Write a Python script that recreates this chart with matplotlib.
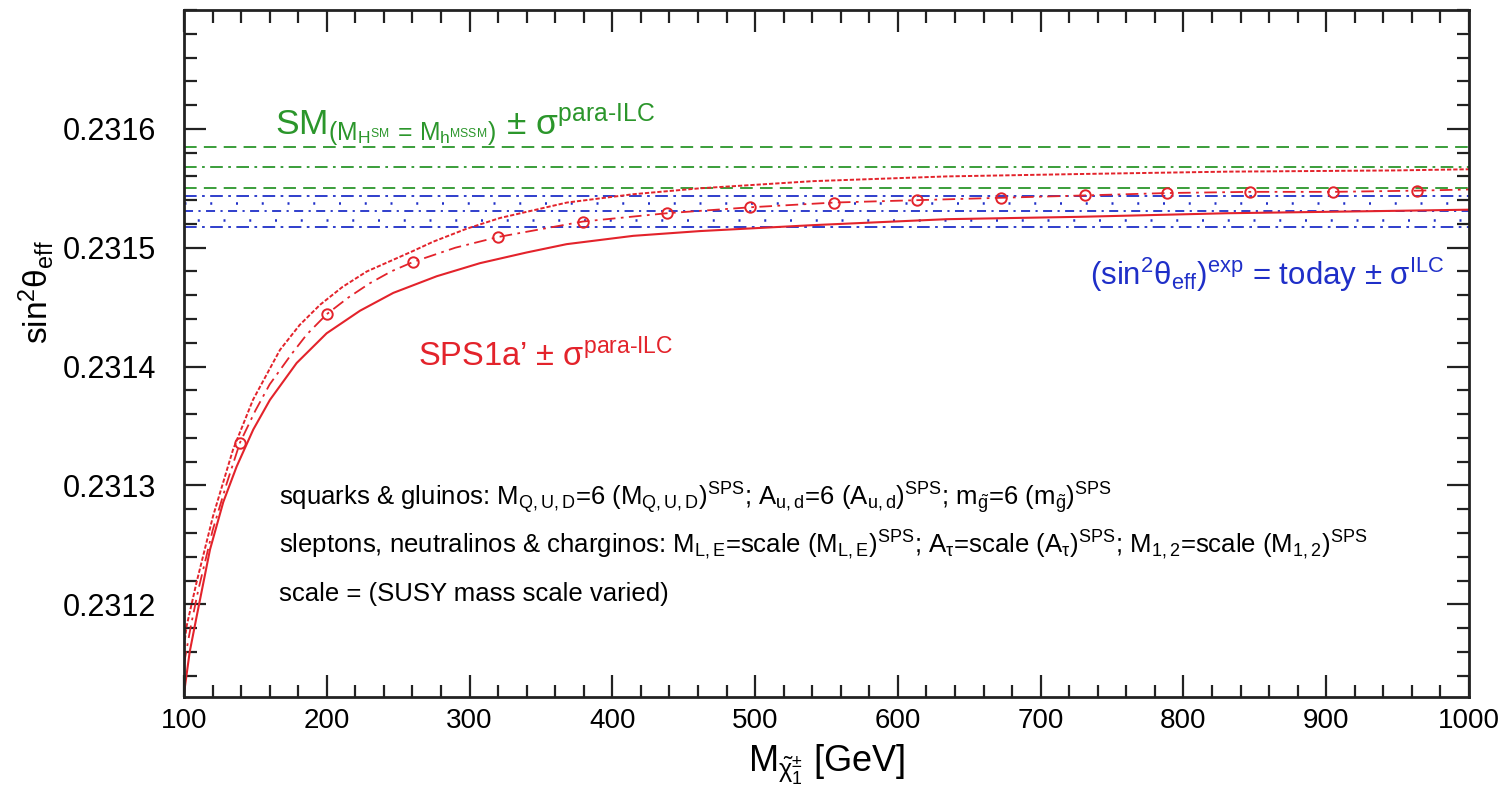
import numpy as np
import matplotlib
matplotlib.use('Agg')
from matplotlib import pyplot as plt
from matplotlib.ticker import MultipleLocator, FixedLocator, FormatStrFormatter

plt.rcParams['font.family'] = ['Liberation Sans', 'DejaVu Sans']
plt.rcParams['mathtext.fontset'] = 'custom'
plt.rcParams['mathtext.rm'] = 'Liberation Sans'
plt.rcParams['mathtext.it'] = 'Liberation Sans:italic'
plt.rcParams['mathtext.bf'] = 'Liberation Sans:bold'
plt.rcParams['mathtext.sf'] = 'Liberation Sans'
plt.rcParams['mathtext.default'] = 'regular'

# SPS1a' curves (chargino mass in GeV, sin^2 theta_eff)
x_lo = [100, 104, 108.9, 118.2, 127.5, 136.9, 148.5, 160.2, 178.9, 199.9, 223.3, 246.6, 277,
        307.3, 340, 368, 414.7, 461.4, 540.7, 634.2, 727.5, 830.3, 946.8, 1000]
y_lo = [0.231125, 0.231160, 0.231190, 0.231246, 0.231286, 0.231316, 0.231347, 0.231372, 0.231403,
        0.231428, 0.231447, 0.231462, 0.231476, 0.231487, 0.231496, 0.231503, 0.231510, 0.231514,
        0.231519, 0.231524, 0.231526, 0.231529, 0.231531, 0.231532]
x_up = [100, 101.9, 108.9, 120.3, 134.3, 148.3, 167.2, 181, 195.3, 211, 228, 260, 274.4, 298,
        321.3, 368.2, 414.5, 461.4, 540.5, 634.4, 727.5, 830.5, 946.8, 1000]
y_up = [0.231165, 0.231182, 0.231219, 0.231274, 0.231330, 0.231372, 0.231414, 0.231435, 0.231452,
        0.231467, 0.231480, 0.231497, 0.231505, 0.231516, 0.231525, 0.231538, 0.231545, 0.231550,
        0.231556, 0.231560, 0.231562, 0.231564, 0.231565, 0.231566]
x_mid = [100, 105, 110, 120, 130, 139.2, 150, 160, 175, 186, 199.9, 215, 230, 245, 260.4, 290,
         319.9, 379.2, 438.1, 496.4, 555.3, 613.4, 672.0, 731.0, 788.5, 846.6, 904.6, 963.4, 1000]
y_mid = [0.231150, 0.231183, 0.231212, 0.231262, 0.231302, 0.231336, 0.231363, 0.231385, 0.231410,
         0.231427, 0.231444, 0.231458, 0.231470, 0.231480, 0.231488, 0.231500, 0.231509, 0.231522,
         0.231529, 0.231534, 0.231538, 0.231540, 0.231542, 0.231544, 0.231546, 0.231547, 0.231547,
         0.231548, 0.231549]
x_pts = [139.2, 199.9, 260.4, 319.9, 379.2, 438.1, 496.4, 555.3, 613.4, 672.0, 731.0, 788.5,
         846.6, 904.6, 963.4]
y_pts = [0.231336, 0.231444, 0.231488, 0.231509, 0.231522, 0.231529, 0.231534, 0.231538, 0.231540,
         0.231542, 0.231544, 0.231546, 0.231547, 0.231547, 0.231548]

# horizontal bands
sm_hi, sm_c, sm_lo = 0.2315851, 0.2315683, 0.2315502
ex_hi, ex_c, ex_lo = 0.2315431, 0.2315305, 0.2315171
dot_rows = [0.2315376, 0.2315235]

red = '#e3232b'
green = '#2b962b'
blue = '#1f2fc8'

fig = plt.figure(figsize=(15.07, 8.08), dpi=100)
ax = fig.add_axes([184/1507, 1-697/808, (1469-184)/1507, (697-10)/808])

ax.axhline(sm_hi, color=green, lw=1.3, ls=(0, (7, 4)))
ax.axhline(sm_c, color=green, lw=1.3, ls=(0, (7, 3, 1.5, 3)))
ax.axhline(sm_lo, color=green, lw=1.3, ls=(0, (7, 4)))
ax.axhline(ex_hi, color=blue, lw=1.3, ls=(0, (7, 3, 1.5, 3)))
ax.axhline(ex_c, color=blue, lw=1.3, ls=(0, (5, 3, 1.2, 3)))
ax.axhline(ex_lo, color=blue, lw=1.3, ls=(0, (7, 3, 1.5, 3)))
for k, yd in enumerate(dot_rows):
    ax.axhline(yd, color=blue, lw=1.8, ls=(5*k, (0.8, 9.5)))

ax.plot(x_up, y_up, color=red, lw=1.4, ls=(0, (2.2, 1)))
ax.plot(x_mid, y_mid, color=red, lw=1.3, ls=(0, (7, 3, 1.5, 3)))
ax.plot(x_lo, y_lo, color=red, lw=1.5)
ax.plot(x_pts, y_pts, 'o', ms=7.5, mfc='none', mec=red, mew=1.4)

ax.set_xlim(100, 1000)
ax.set_ylim(0.231122, 0.2317)
ax.xaxis.set_major_locator(MultipleLocator(100))
ax.xaxis.set_minor_locator(MultipleLocator(20))
ax.yaxis.set_major_locator(FixedLocator([0.2312, 0.2313, 0.2314, 0.2315, 0.2316]))
ax.yaxis.set_minor_locator(FixedLocator(np.arange(0.23112, 0.23171, 0.00002)))
ax.yaxis.set_major_formatter(FormatStrFormatter('%.4f'))
ax.tick_params(which='both', direction='in', top=True, right=True, width=1.6, colors='#222222')
ax.tick_params(which='major', length=16)
ax.tick_params(which='minor', length=9)
ax.tick_params(axis='x', labelsize=20, pad=8, labelcolor='black')
ax.tick_params(axis='y', labelsize=22, pad=20, labelcolor='black')
for s in ax.spines.values():
    s.set_linewidth(2)
    s.set_color('#222222')

ax.set_xlabel(r'M$_{\tilde{\chi}^{\pm}_1}$ [GeV]', fontsize=26, labelpad=6)
fig.text(36/1507, 1-292/808, r'sin$^2\theta_{eff}$', rotation=90, fontsize=24,
         ha='center', va='center')

ax.text(0.071, 0.818, r'SM$_{(M_{H^{SM}}\,=\,M_{h^{MSSM}})}$ $\pm$ $\sigma^{\text{para-ILC}}$',
        transform=ax.transAxes, color=green, fontsize=25.5)
ax.text(0.981, 0.60, r'(sin$^2\theta_{eff}$)$^{exp}$ = today $\pm$ $\sigma^{ILC}$',
        transform=ax.transAxes, color=blue, fontsize=22.5, ha='right')
ax.text(0.182, 0.482, r"SPS1a’ $\pm$ $\sigma^{\text{para-ILC}}$",
        transform=ax.transAxes, color=red, fontsize=23.5)

ax.text(0.074, 0.2795, r'squarks & gluinos: M$_{Q,U,D}$=6 (M$_{Q,U,D}$)$^{SPS}$; A$_{u,d}$=6 (A$_{u,d}$)$^{SPS}$; m$_{\tilde{g}}$=6 (m$_{\tilde{g}}$)$^{SPS}$',
        transform=ax.transAxes, fontsize=18.5)
ax.text(0.074, 0.2096, r'sleptons, neutralinos & charginos: M$_{L,E}$=scale (M$_{L,E}$)$^{SPS}$; A$_{\tau}$=scale (A$_{\tau}$)$^{SPS}$; M$_{1,2}$=scale (M$_{1,2}$)$^{SPS}$',
        transform=ax.transAxes, fontsize=18.5)
ax.text(0.074, 0.1397, r'scale = (SUSY mass scale varied)', transform=ax.transAxes, fontsize=18.5)

fig.savefig('out.png', dpi=100)
